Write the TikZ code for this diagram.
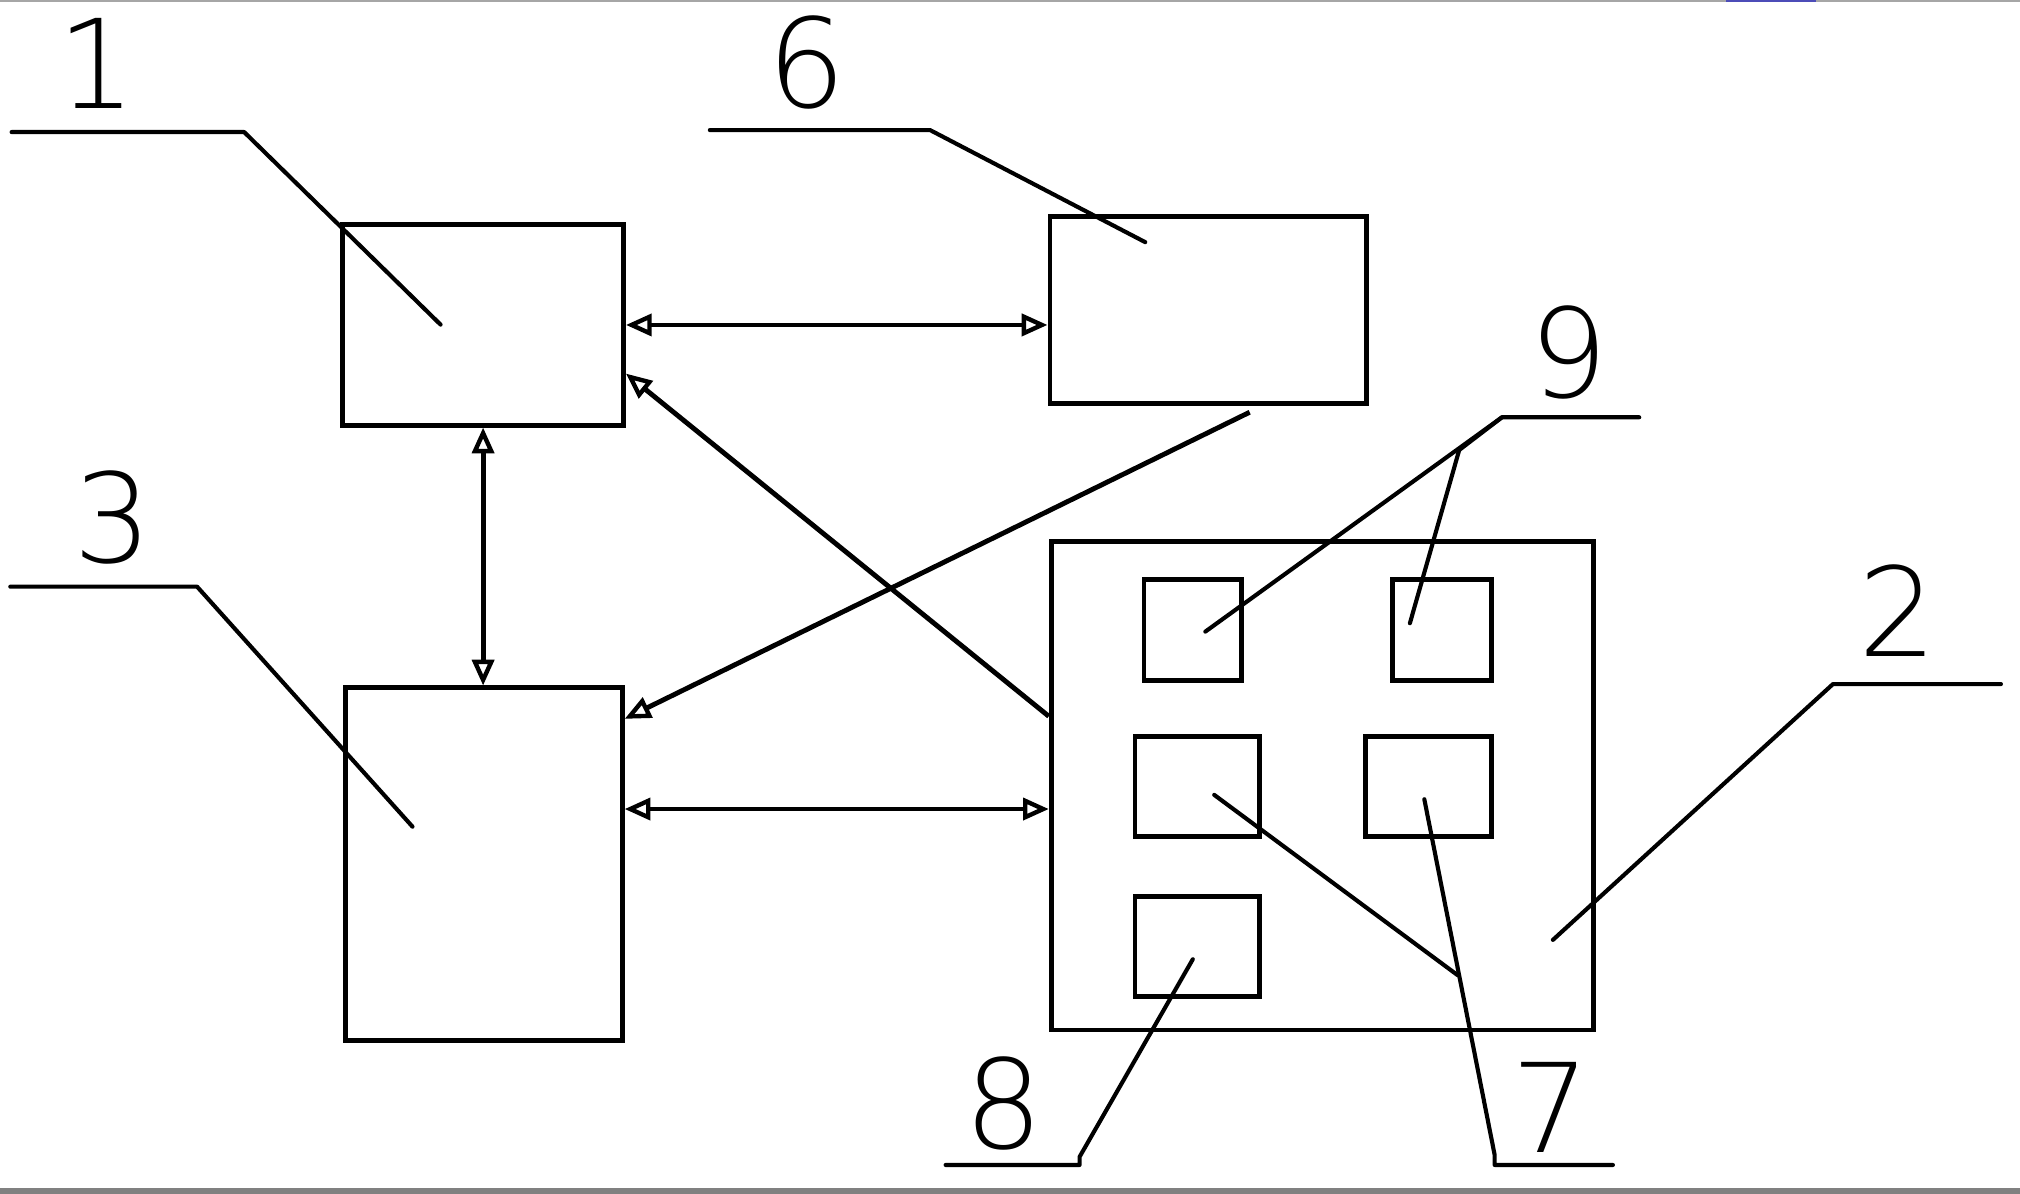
\documentclass[tikz,border=0pt]{standalone}
\usepackage{fontspec}
\usetikzlibrary{arrows.meta}
\IfFontExistsTF{DejaVu Sans ExtraLight}{\newfontfamily\digitfont{DejaVu Sans ExtraLight}}{\newfontfamily\digitfont{DejaVu Sans}}
\tikzset{
  box/.style={draw, line width=1.9pt, rectangle, inner sep=0pt},
  leader/.style={line width=1.6pt, line cap=round, line join=round},
  conn/.style={line width=1.9pt},
  tipA/.tip={Triangle[open, length=10pt, width=8.5pt, line width=1.7pt]},
  biarrow/.style={conn, tipA-tipA},
  onearrow/.style={conn, -tipA},
  digit/.style={inner sep=0pt, font=\digitfont\fontsize{48}{48}\selectfont}
}
\begin{document}
\begin{tikzpicture}[x=0.5pt, y=-0.5pt]
\useasboundingbox (0,0) rectangle (1568,926.83);
% screenshot frame strips
\fill[gray!70] (0,0) rectangle (1568,1.2);
\fill[blue!60!black!70] (1340,0) rectangle (1410,1.6);
\fill[gray] (0,922) rectangle (1568,926.83);

% main boxes
\node[box, minimum width=109pt, minimum height=77.75pt] (b1) at (375,252.25) {};
\node[box, minimum width=123pt, minimum height=72.5pt] (b6) at (938,240.5) {};
\node[box, minimum width=107.25pt, minimum height=137pt] (b3) at (375.75,671) {};
\node[box, minimum width=210.5pt, minimum height=189.5pt] (b2) at (1026.5,610) {};
% inner boxes
\node[box, minimum width=38pt, minimum height=39pt] (i9a) at (926,489) {};
\node[box, minimum width=38.25pt, minimum height=39pt] (i9b) at (1119.25,489) {};
\node[box, minimum width=48.25pt, minimum height=38.75pt] (i7a) at (929.25,610.75) {};
\node[box, minimum width=48.75pt, minimum height=38.75pt] (i7b) at (1108.75,610.75) {};
\node[box, minimum width=48.25pt, minimum height=38.75pt] (i8) at (929.25,734.75) {};

% labels
\node[digit] (l1) at (75,49) {1};
\node[digit] (l6) at (626.5,48.5) {6};
\node[digit] (l3) at (87.4,401.4) {3};
\node[digit] (l9) at (1217.6,273.5) {9};
\node[digit] (l2) at (1473.5,474.3) {2};
\node[digit] (l8) at (779,856.5) {8};
\node[digit] (l7) at (1204,859.6) {7};

% connectors
\draw[biarrow] (b1.east) -- (b1.east -| b6.west);
\coordinate (h32) at (600,628);
\draw[biarrow] (h32 -| b3.east) -- (h32 -| b2.west);
\draw[biarrow] (b1.south) -- (b1.south |- b3.north);
\coordinate (d1s) at (816,556);
\coordinate (d1e) at (484,290);
\draw[onearrow] (d1s -| b2.west) -- (d1e -| b1.east);
\coordinate (d2s) at (970,320);
\coordinate (d2e) at (484,558);
\draw[onearrow] (d2s) -- (d2e -| b3.east);

% leader coordinates
\coordinate (p1a) at (9,102.5);
\coordinate (p1b) at (189.5,102.5);
\coordinate (p1c) at (342,252);
\coordinate (p6a) at (551,101);
\coordinate (p6b) at (722,101);
\coordinate (p6c) at (889,188);
\coordinate (p3a) at (8,455.4);
\coordinate (p3b) at (153,455.4);
\coordinate (p3c) at (320.2,641.7);
\coordinate (p9s1) at (935.6,490.3);
\coordinate (p9s2) at (1094.4,483.8);
\coordinate (p9k) at (1132.7,349.3);
\coordinate (p9b) at (1165.9,323.9);
\coordinate (p9e) at (1272.4,323.9);
\coordinate (p2s) at (1205.4,729.6);
\coordinate (p2b) at (1422.8,531);
\coordinate (p2e) at (1553.2,531);
\coordinate (p8s) at (925.9,744.6);
\coordinate (p8k) at (838,898);
\coordinate (p8b) at (838,904.3);
\coordinate (p8e) at (734,904.3);
\coordinate (p7s1) at (942.5,617);
\coordinate (p7j) at (1131.5,757);
\coordinate (p7s2) at (1105.6,620.4);
\coordinate (p7k) at (1160.2,896.5);
\coordinate (p7b) at (1160.2,904.3);
\coordinate (p7e) at (1252,904.3);

% leaders
\draw[leader] (p1a) -- (p1b) -- (p1c);
\draw[leader] (p6a) -- (p6b) -- (p6c);
\draw[leader] (p3a) -- (p3b) -- (p3c);
\draw[leader] (p9s1) -- (p9b) -- (p9e);
\draw[leader] (p9s2) -- (p9k) -- (p9b);
\draw[leader] (p2s) -- (p2b) -- (p2e);
\draw[leader] (p8s) -- (p8k) -- (p8b) -- (p8e);
\draw[leader] (p7s1) -- (p7j);
\draw[leader] (p7s2) -- (p7k) -- (p7b) -- (p7e);
\end{tikzpicture}
\end{document}
